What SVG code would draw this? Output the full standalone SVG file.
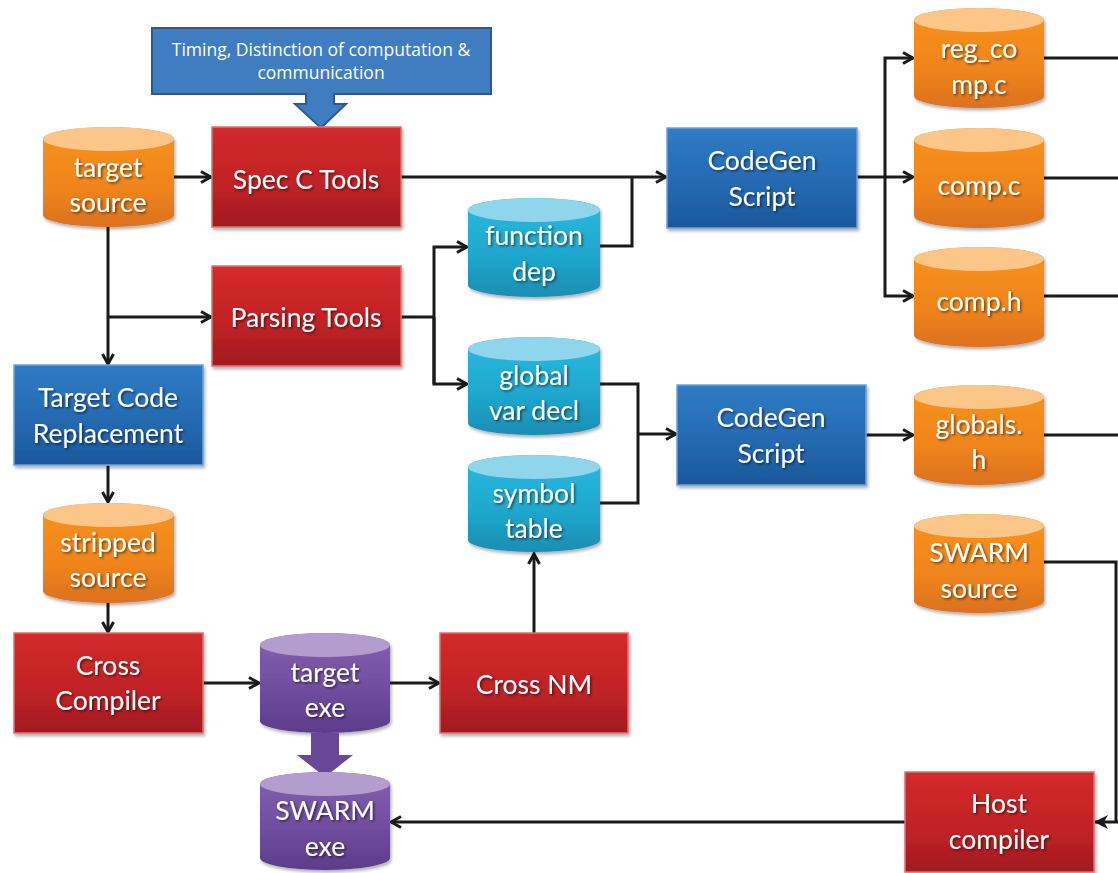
<svg xmlns="http://www.w3.org/2000/svg" width="1118" height="873" viewBox="0 0 1118 873">
  <defs>
    <linearGradient id="gOrange" x1="0" y1="0" x2="0" y2="1">
      <stop offset="0" stop-color="#f7931e"/>
      <stop offset="0.6" stop-color="#f0851d"/>
      <stop offset="1" stop-color="#db7120"/>
    </linearGradient>
    <linearGradient id="gCyan" x1="0" y1="0" x2="0" y2="1">
      <stop offset="0" stop-color="#2abbe0"/>
      <stop offset="0.6" stop-color="#1fa6cc"/>
      <stop offset="1" stop-color="#1a8db3"/>
    </linearGradient>
    <linearGradient id="gPurple" x1="0" y1="0" x2="0" y2="1">
      <stop offset="0" stop-color="#8462b0"/>
      <stop offset="0.6" stop-color="#6e4c9c"/>
      <stop offset="1" stop-color="#5c3d8a"/>
    </linearGradient>
    <linearGradient id="gRed" x1="0" y1="0" x2="0" y2="1">
      <stop offset="0" stop-color="#d42a2a"/>
      <stop offset="0.6" stop-color="#bf2226"/>
      <stop offset="1" stop-color="#a01a1f"/>
    </linearGradient>
    <linearGradient id="gBlue" x1="0" y1="0" x2="0" y2="1">
      <stop offset="0" stop-color="#2e7cc4"/>
      <stop offset="0.6" stop-color="#2468b0"/>
      <stop offset="1" stop-color="#1a579a"/>
    </linearGradient>
    <filter id="txtShadow" x="-10%" y="-30%" width="130%" height="160%">
      <feDropShadow dx="1.5" dy="1.5" stdDeviation="0.8" flood-color="#000" flood-opacity="0.55"/>
    </filter>
    <filter id="boxShadow" x="-10%" y="-10%" width="125%" height="130%">
      <feDropShadow dx="1.5" dy="2.5" stdDeviation="1.5" flood-color="#000" flood-opacity="0.3"/>
    </filter>
    <marker id="arrow" viewBox="0 0 14 14" refX="12" refY="7" markerWidth="14" markerHeight="14" markerUnits="userSpaceOnUse" orient="auto">
      <path d="M2,1.5 L12,7 L2,12.5" fill="none" stroke="#1a1a1a" stroke-width="3" stroke-linejoin="miter"/>
    </marker>
    <marker id="arrowSolid" viewBox="0 0 16 16" refX="14" refY="8" markerWidth="16" markerHeight="16" markerUnits="userSpaceOnUse" orient="auto">
      <path d="M1,1 L15,8 L1,15 L5,8 Z" fill="#1a1a1a"/>
    </marker>
  </defs>
  <style>
    .lbl { font-family: Lato, "Open Sans", "Liberation Sans", sans-serif; font-size: 26.5px; fill: #ffffff; text-anchor: middle; filter: url(#txtShadow); }
    .small { font-family: "Open Sans", Lato, "Liberation Sans", sans-serif; font-size: 17.5px; fill: #ffffff; text-anchor: middle; }
    .wire { fill: none; stroke: #1a1a1a; stroke-width: 3; }
    .red { fill: url(#gRed); stroke: #e07070; stroke-width: 1.5; filter: url(#boxShadow); }
    .blue { fill: url(#gBlue); stroke: #6ea3d8; stroke-width: 1.5; filter: url(#boxShadow); }
    .orange { fill: url(#gOrange); filter: url(#boxShadow); }
    .orangeTop { fill: #fcc688; }
    .cyan { fill: url(#gCyan); filter: url(#boxShadow); }
    .cyanTop { fill: #8fd5ec; }
    .purple { fill: url(#gPurple); filter: url(#boxShadow); }
    .purpleTop { fill: #b49dce; }
  </style>

  <rect width="1118" height="873" fill="#ffffff"/>

  <!-- connectors -->
  <g id="connectors">
    <!-- target source to Spec C Tools -->
    <path class="wire" d="M174,177 H211" marker-end="url(#arrow)"/>
    <!-- target source down to Target Code Replacement, branch to Parsing Tools -->
    <path class="wire" d="M108,227 V364" marker-end="url(#arrow)"/>
    <path class="wire" d="M108,317 H211" marker-end="url(#arrow)"/>
    <!-- Spec C Tools to CodeGen Script -->
    <path class="wire" d="M401,177 H666" marker-end="url(#arrow)"/>
    <!-- function dep joins CodeGen input -->
    <path class="wire" d="M600,246 H632 V177"/>
    <!-- Parsing Tools fan-out -->
    <path class="wire" d="M401,317 H434"/>
    <path class="wire" d="M434,384 V247 H467" marker-end="url(#arrow)"/>
    <path class="wire" d="M434,317 V384 H467" marker-end="url(#arrow)"/>
    <!-- global var decl + symbol table to second CodeGen Script -->
    <path class="wire" d="M600,384 H638 V503 H600"/>
    <path class="wire" d="M638,434 H676" marker-end="url(#arrow)"/>
    <!-- first CodeGen Script fan-out -->
    <path class="wire" d="M857,177 H885"/>
    <path class="wire" d="M885,177 V58 H913" marker-end="url(#arrow)"/>
    <path class="wire" d="M885,177 H913" marker-end="url(#arrow)"/>
    <path class="wire" d="M885,177 V296 H913" marker-end="url(#arrow)"/>
    <!-- second CodeGen Script to globals.h -->
    <path class="wire" d="M866,435 H913" marker-end="url(#arrow)"/>
    <!-- generated files run off to the right -->
    <path class="wire" d="M1044,58 H1118"/>
    <path class="wire" d="M1044,178 H1118"/>
    <path class="wire" d="M1044,296 H1118"/>
    <path class="wire" d="M1044,435 H1118"/>
    <path class="wire" d="M1044,562 H1116 V822"/>
    <path class="wire" d="M1118,822 H1095" marker-end="url(#arrowSolid)"/>
    <!-- Target Code Replacement to stripped source to Cross Compiler -->
    <path class="wire" d="M108,465 V502" marker-end="url(#arrow)"/>
    <path class="wire" d="M108,603 V632" marker-end="url(#arrow)"/>
    <!-- Cross Compiler to target exe to Cross NM -->
    <path class="wire" d="M203,683 H259" marker-end="url(#arrow)"/>
    <path class="wire" d="M390,683 H439" marker-end="url(#arrow)"/>
    <!-- Cross NM up to symbol table -->
    <path class="wire" d="M534,633 V554" marker-end="url(#arrow)"/>
    <!-- Host compiler to SWARM exe -->
    <path class="wire" d="M905,822 H391" marker-end="url(#arrow)"/>
  </g>

  <!-- callout above Spec C Tools -->
  <g id="callout">
    <path d="M152,28 H491 V94 H334 V104 H346 L321,128 L295,104 H306 V94 H152 Z" fill="#3f7cc0" stroke="#2a5a8f" stroke-width="2"/>
    <text class="small" x="321" y="56">Timing, Distinction of computation &amp;</text>
    <text class="small" x="321" y="79">communication</text>
  </g>

  <!-- process boxes -->
  <g id="specC">
    <rect class="red" x="212" y="127" width="189" height="100"/>
    <text class="lbl" x="306" y="189">Spec C Tools</text>
  </g>
  <g id="parsing">
    <rect class="red" x="212" y="266" width="189" height="100"/>
    <text class="lbl" x="306" y="327">Parsing Tools</text>
  </g>
  <g id="targetCodeRepl">
    <rect class="blue" x="14" y="365" width="189" height="100"/>
    <text class="lbl" x="108" y="407">Target Code</text>
    <text class="lbl" x="108" y="443">Replacement</text>
  </g>
  <g id="crossCompiler">
    <rect class="red" x="14" y="633" width="189" height="100"/>
    <text class="lbl" x="108" y="675">Cross</text>
    <text class="lbl" x="108" y="710">Compiler</text>
  </g>
  <g id="crossNM">
    <rect class="red" x="440" y="633" width="188" height="100"/>
    <text class="lbl" x="534" y="694">Cross NM</text>
  </g>
  <g id="codegen1">
    <rect class="blue" x="667" y="128" width="190" height="100"/>
    <text class="lbl" x="762" y="170">CodeGen</text>
    <text class="lbl" x="762" y="206">Script</text>
  </g>
  <g id="codegen2">
    <rect class="blue" x="677" y="385" width="189" height="100"/>
    <text class="lbl" x="771" y="427">CodeGen</text>
    <text class="lbl" x="771" y="463">Script</text>
  </g>
  <g id="hostCompiler">
    <rect class="red" x="905" y="772" width="189" height="100"/>
    <text class="lbl" x="999" y="813">Host</text>
    <text class="lbl" x="999" y="849">compiler</text>
  </g>

  <!-- data stores (cylinders: body then lid) -->
  <g id="targetSource">
    <path class="orange" d="M43,139 A65.5,12 0 0 1 174,139 V215 A65.5,12 0 0 1 43,215 Z"/>
    <ellipse class="orangeTop" cx="108.5" cy="139" rx="65.5" ry="12"/>
    <text class="lbl" x="108" y="177">target</text>
    <text class="lbl" x="108" y="212">source</text>
  </g>
  <g id="strippedSource">
    <path class="orange" d="M43,515 A65.5,12 0 0 1 174,515 V591 A65.5,12 0 0 1 43,591 Z"/>
    <ellipse class="orangeTop" cx="108.5" cy="515" rx="65.5" ry="12"/>
    <text class="lbl" x="108" y="552">stripped</text>
    <text class="lbl" x="108" y="587">source</text>
  </g>
  <g id="functionDep">
    <path class="cyan" d="M468,210 A66,12 0 0 1 600,210 V285 A66,12 0 0 1 468,285 Z"/>
    <ellipse class="cyanTop" cx="534" cy="210" rx="66" ry="12"/>
    <text class="lbl" x="534" y="245">function</text>
    <text class="lbl" x="534" y="281">dep</text>
  </g>
  <g id="globalVarDecl">
    <path class="cyan" d="M468,349 A66,12 0 0 1 600,349 V423 A66,12 0 0 1 468,423 Z"/>
    <ellipse class="cyanTop" cx="534" cy="349" rx="66" ry="12"/>
    <text class="lbl" x="534" y="385">global</text>
    <text class="lbl" x="534" y="420">var decl</text>
  </g>
  <g id="symbolTable">
    <path class="cyan" d="M468,467 A66,12 0 0 1 600,467 V540 A66,12 0 0 1 468,540 Z"/>
    <ellipse class="cyanTop" cx="534" cy="467" rx="66" ry="12"/>
    <text class="lbl" x="534" y="503">symbol</text>
    <text class="lbl" x="534" y="538">table</text>
  </g>
  <g id="targetExe">
    <path class="purple" d="M260,645 A65,12 0 0 1 390,645 V721 A65,12 0 0 1 260,721 Z"/>
    <ellipse class="purpleTop" cx="325" cy="645" rx="65" ry="12"/>
    <text class="lbl" x="325" y="682">target</text>
    <text class="lbl" x="325" y="717">exe</text>
  </g>
  <g id="exeToSwarm">
    <path d="M311,733 H339 V755 H353 L325,777 L297,755 H311 Z" fill="#6a4898"/>
  </g>
  <g id="swarmExe">
    <path class="purple" d="M260,784 A65,12 0 0 1 390,784 V858 A65,12 0 0 1 260,858 Z"/>
    <ellipse class="purpleTop" cx="325" cy="784" rx="65" ry="12"/>
    <text class="lbl" x="325" y="820">SWARM</text>
    <text class="lbl" x="325" y="856">exe</text>
  </g>
  <g id="regComp">
    <path class="orange" d="M914,20 A65,12 0 0 1 1044,20 V96 A65,12 0 0 1 914,96 Z"/>
    <ellipse class="orangeTop" cx="979" cy="20" rx="65" ry="12"/>
    <text class="lbl" x="979" y="58">reg_co</text>
    <text class="lbl" x="979" y="94">mp.c</text>
  </g>
  <g id="compC">
    <path class="orange" d="M914,140 A65,12 0 0 1 1044,140 V216 A65,12 0 0 1 914,216 Z"/>
    <ellipse class="orangeTop" cx="979" cy="140" rx="65" ry="12"/>
    <text class="lbl" x="979" y="195">comp.c</text>
  </g>
  <g id="compH">
    <path class="orange" d="M914,259 A65,12 0 0 1 1044,259 V335 A65,12 0 0 1 914,335 Z"/>
    <ellipse class="orangeTop" cx="979" cy="259" rx="65" ry="12"/>
    <text class="lbl" x="979" y="311">comp.h</text>
  </g>
  <g id="globalsH">
    <path class="orange" d="M914,397 A65,12 0 0 1 1044,397 V473 A65,12 0 0 1 914,473 Z"/>
    <ellipse class="orangeTop" cx="979" cy="397" rx="65" ry="12"/>
    <text class="lbl" x="979" y="434">globals.</text>
    <text class="lbl" x="979" y="469">h</text>
  </g>
  <g id="swarmSource">
    <path class="orange" d="M914,526 A65,12 0 0 1 1044,526 V601 A65,12 0 0 1 914,601 Z"/>
    <ellipse class="orangeTop" cx="979" cy="526" rx="65" ry="12"/>
    <text class="lbl" x="979" y="562">SWARM</text>
    <text class="lbl" x="979" y="598">source</text>
  </g>
</svg>
